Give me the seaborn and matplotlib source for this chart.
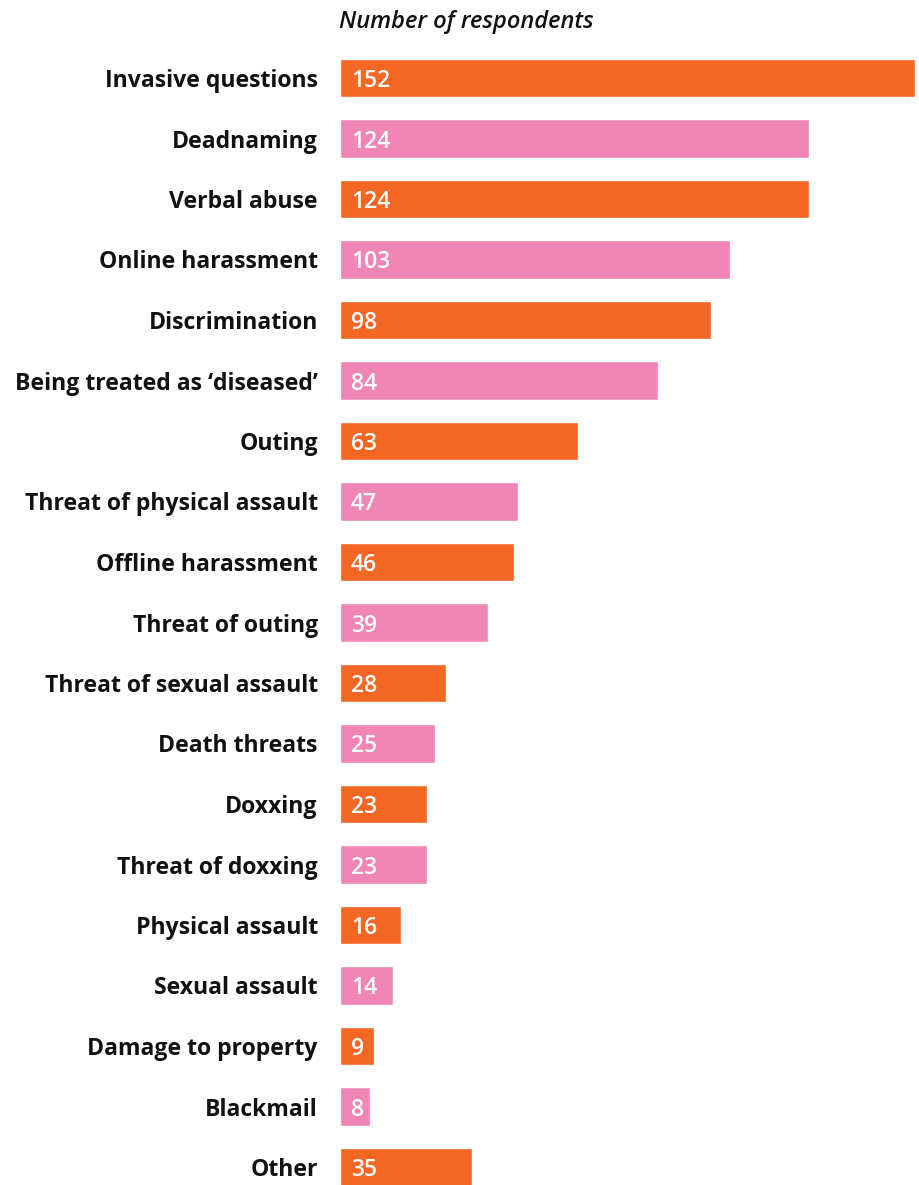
import matplotlib
matplotlib.use("Agg")
import matplotlib.pyplot as plt
import seaborn as sns
import pandas as pd

categories = ["Invasive questions", "Deadnaming", "Verbal abuse", "Online harassment",
              "Discrimination", "Being treated as \u2018diseased\u2019", "Outing",
              "Threat of physical assault", "Offline harassment", "Threat of outing",
              "Threat of sexual assault", "Death threats", "Doxxing", "Threat of doxxing",
              "Physical assault", "Sexual assault", "Damage to property", "Blackmail", "Other"]
values = [152, 124, 124, 103, 98, 84, 63, 47, 46, 39, 28, 25, 23, 23, 16, 14, 9, 8, 35]

ORANGE = "#F26724"
PINK = "#F086B6"
colors = [ORANGE if i % 2 == 0 else PINK for i in range(len(categories))]

df = pd.DataFrame({"category": categories, "value": values})

sns.set_theme(style="white")
plt.rcParams['font.family'] = ['Open Sans', 'DejaVu Sans']

W, H = 919, 1185
fig = plt.figure(figsize=(W / 100, H / 100), dpi=100)
ax = fig.add_axes([340 / W, 0, 575 / W, (1185 - 47) / H])

sns.barplot(data=df, y="category", x="value", hue="category", palette=colors,
            legend=False, orient="h", width=0.63, ax=ax, saturation=1)

ax.set_xlim(0, 152)
ax.set_ylim(18 + 18 / 60.5, -31 / 60.5)
for s in ax.spines.values():
    s.set_visible(False)
ax.set_xticks([])
ax.set_xlabel("")
ax.set_ylabel("")
ax.tick_params(axis="y", length=0, pad=16)
for lab in ax.get_yticklabels():
    lab.set_fontsize(16.6)
    lab.set_fontweight("bold")
    lab.set_color("#111111")

for i, v in enumerate(values):
    ax.text(2.9, i, str(v), color="white", fontsize=16.5, fontweight="semibold",
            va="center_baseline", ha="left")

fig.text(339 / W, 1 - 22 / H, "Number of respondents", fontsize=17, style="italic",
         fontweight="semibold", va="center", ha="left", color="#111111")

fig.savefig("out.png", dpi=100)
